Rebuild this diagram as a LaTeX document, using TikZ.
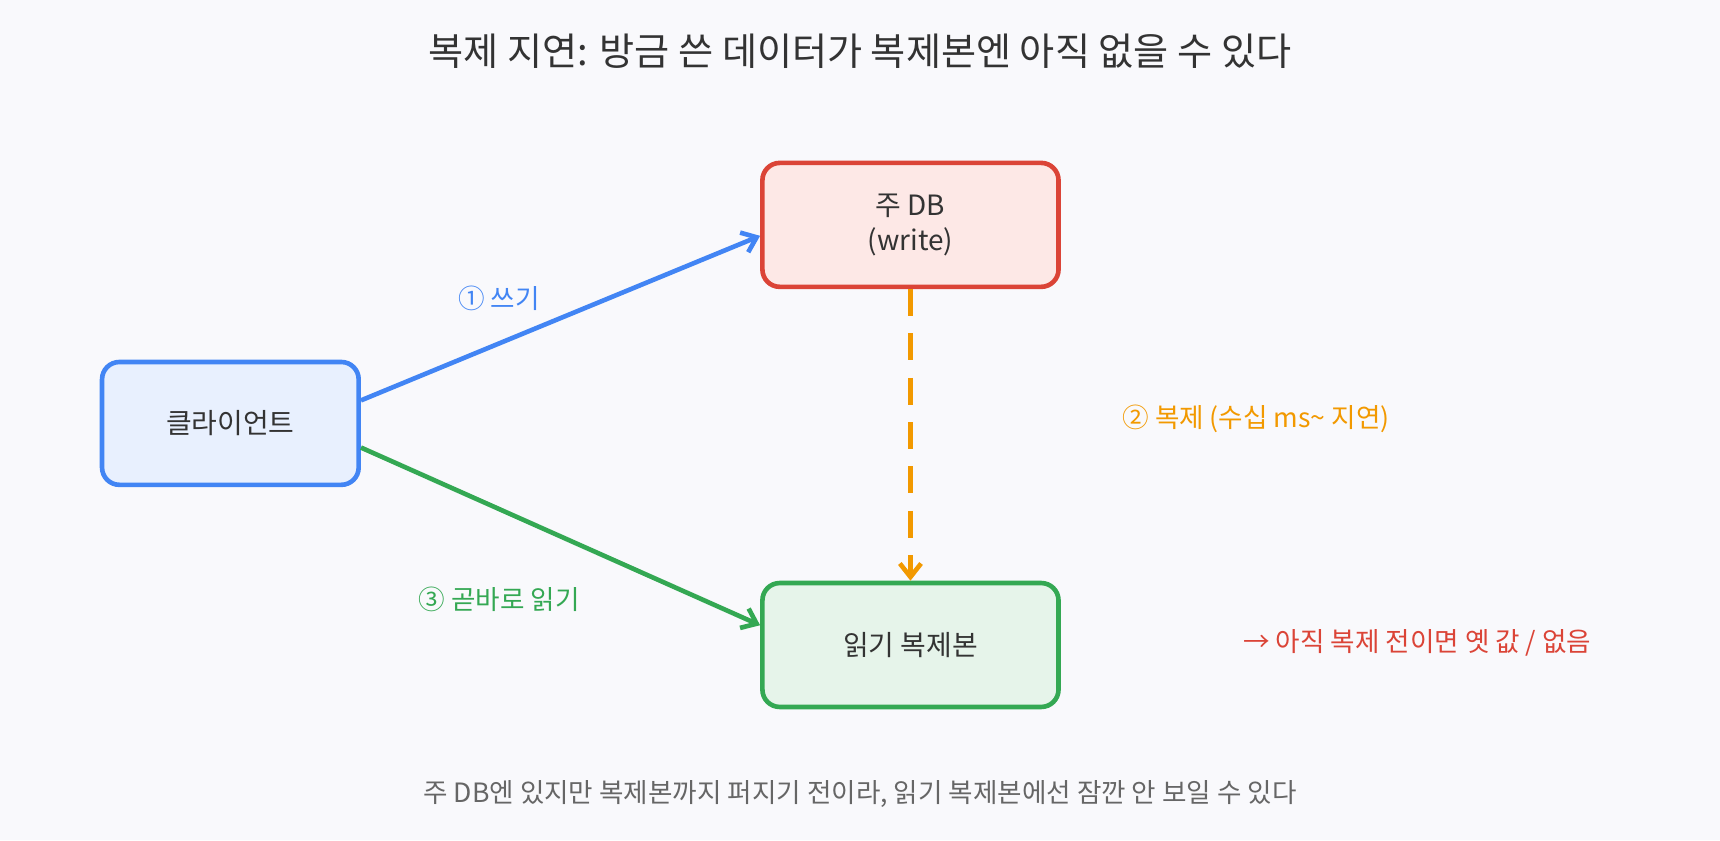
\documentclass[tikz,border=0pt]{standalone}
\usepackage{fontspec}
\setmainfont{Noto Sans CJK KR}
\usetikzlibrary{arrows.meta,positioning}
\definecolor{bgc}{HTML}{F9F9FC}
\definecolor{cblue}{HTML}{4285F4}
\definecolor{fblue}{HTML}{E8F0FE}
\definecolor{cred}{HTML}{DB4437}
\definecolor{fred}{HTML}{FDE8E6}
\definecolor{cgreen}{HTML}{34A853}
\definecolor{fgreen}{HTML}{E6F4EA}
\definecolor{corange}{HTML}{F29900}
\definecolor{cgray}{HTML}{666666}
\definecolor{ctext}{HTML}{333333}

\begin{document}
\begin{tikzpicture}[x=0.02cm,y=-0.02cm,
	  every node/.style={align=center,text=ctext},
	  box/.style={rounded corners=9pt,line width=2.4pt,minimum width=5.4cm,minimum height=2.26cm,font=\fontsize{14.5}{18}\selectfont},
	  lbl/.style={font=\fontsize{13.8}{16}\selectfont},
	  to/.style={-{Straight Barb[length=7pt,width=11pt]},line width=2.4pt}]

	  % background and bounding box
	  \fill[bgc] (0,0) rectangle (1568,766);
	  \useasboundingbox (0,0) rectangle (1568,766);

	  \node[font=\fontsize{19.8}{22}\selectfont] (title) at (784,47) {복제 지연: 방금 쓴 데이터가 복제본엔 아직 없을 수 있다};

	  % boxes
	  \node[box,draw=cblue,fill=fblue,minimum width=4.68cm,minimum height=2.24cm] (client) at (210,386) {클라이언트};
	  \node[box,draw=cred,fill=fred] (primary) at (830,205) {주 DB\\(write)};
	  \node[box,draw=cgreen,fill=fgreen] (replica) at (830,588) {읽기 복제본};

	  % connectors
	  \draw[to,cblue] (client.east |- 0,365) -- (primary.west |- 0,215);
	  \draw[to,cgreen] (client.east |- 0,408) -- (replica.west |- 0,570);
	  \draw[to,corange,dash pattern=on 14pt off 9pt] (primary.south) -- (replica.north);

	  % labels
	  \node[lbl,text=cblue] (lwrite) at (455,272) {① 쓰기};
	  \node[lbl,text=corange] (lrepl) at (1145,382) {② 복제 (수십 ms\textasciitilde{} 지연)};
	  \node[lbl,text=cgreen] (lread) at (455,546) {③ 곧바로 읽기};
	  \node[lbl,text=cred] (lstale) at (1292,586) {→ 아직 복제 전이면 옛 값 / 없음};
	  \node[lbl,text=cgray] (note) at (784,724) {주 DB엔 있지만 복제본까지 퍼지기 전이라, 읽기 복제본에선 잠깐 안 보일 수 있다};
\end{tikzpicture}
\end{document}
